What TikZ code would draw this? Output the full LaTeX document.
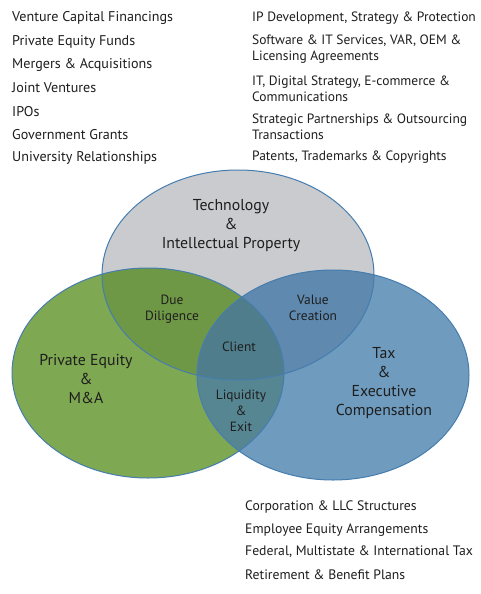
\documentclass[tikz,border=0pt]{standalone}
\usepackage{fontspec}
\setmainfont{PT Sans}
\definecolor{topgray}{RGB}{201,203,207}
\definecolor{pegreen}{RGB}{127,168,82}
\definecolor{taxblue}{RGB}{111,155,190}
\definecolor{ddgreen}{RGB}{110,152,70}
\definecolor{vcblue}{RGB}{95,137,174}
\definecolor{liqteal}{RGB}{86,134,146}
\definecolor{clientteal}{RGB}{79,125,140}
\definecolor{rimblue}{RGB}{70,125,175}
\definecolor{txt}{RGB}{30,30,30}
\tikzset{
  listitem/.style={anchor=west, inner sep=0pt, align=left, text=txt, font=\fontsize{13.5}{16}\selectfont},
  leftitem/.style={listitem, font=\fontsize{14.1}{16}\selectfont},
  bottomitem/.style={listitem, font=\fontsize{13.7}{16}\selectfont},
  biglabel/.style={anchor=center, inner sep=0pt, align=center, text=txt, font=\fontsize{15.8}{19}\selectfont},
  smalllabel/.style={anchor=center, inner sep=0pt, align=center, text=txt, font=\fontsize{13.4}{16}\selectfont},
  rim/.style={draw=rimblue, line width=1pt}
}
\begin{document}
\begin{tikzpicture}[x=1pt,y=-1pt]
\useasboundingbox (0,0) rectangle (480,594);
\fill[white] (0,0) rectangle (480,594);
\coordinate (T) at (238,275);
\coordinate (G) at (148,373);
\coordinate (B) at (333,375);
\def\rx{136}
\def\ry{105}
\fill[topgray] (T) ellipse [x radius=\rx, y radius=\ry];
\fill[pegreen] (G) ellipse [x radius=\rx, y radius=\ry];
\fill[taxblue] (B) ellipse [x radius=\rx, y radius=\ry];
\begin{scope}
  \clip (T) ellipse [x radius=\rx, y radius=\ry];
  \fill[ddgreen] (G) ellipse [x radius=\rx, y radius=\ry];
  \fill[vcblue] (B) ellipse [x radius=\rx, y radius=\ry];
\end{scope}
\begin{scope}
  \clip (G) ellipse [x radius=\rx, y radius=\ry];
  \fill[liqteal] (B) ellipse [x radius=\rx, y radius=\ry];
\end{scope}
\begin{scope}
  \clip (G) ellipse [x radius=\rx, y radius=\ry];
  \clip (T) ellipse [x radius=\rx, y radius=\ry];
  \fill[clientteal] (B) ellipse [x radius=\rx, y radius=\ry];
\end{scope}
\draw[rim] (T) ellipse [x radius=\rx, y radius=\ry];
\draw[rim] (G) ellipse [x radius=\rx, y radius=\ry];
\draw[rim] (B) ellipse [x radius=\rx, y radius=\ry];

% left list
\node[leftitem] (l1) at (12,18) {Venture Capital Financings};
\node[leftitem] (l2) at (12,42) {Private Equity Funds};
\node[leftitem] (l3) at (12,65) {Mergers \& Acquisitions};
\node[leftitem] (l4) at (12,88) {Joint Ventures};
\node[leftitem] (l5) at (12,112) {IPOs};
\node[leftitem] (l6) at (12,135) {Government Grants};
\node[leftitem] (l7) at (12,158) {University Relationships};

% right list
\node[listitem] (r1) at (252,18) {IP Development, Strategy \& Protection};
\node[listitem] (r2) at (252,49.5) {Software \& IT Services, VAR, OEM \&\\Licensing Agreements};
\node[listitem] (r3) at (252,88.5) {IT, Digital Strategy, E-commerce \&\\Communications};
\node[listitem] (r4) at (252,126.5) {Strategic Partnerships \& Outsourcing\\Transactions};
\node[listitem] (r5) at (252,157) {Patents, Trademarks \& Copyrights};

% bottom list
\node[bottomitem] (b1) at (245,507) {Corporation \& LLC Structures};
\node[bottomitem] (b2) at (245,530) {Employee Equity Arrangements};
\node[bottomitem] (b3) at (245,552) {Federal, Multistate \& International Tax};
\node[bottomitem] (b4) at (245,575) {Retirement \& Benefit Plans};

% venn labels
\node[biglabel] (tech) at (231,226) {Technology\\\&\\Intellectual Property};
\node[biglabel] (pe) at (86,379) {Private Equity\\\&\\M\&A};
\node[biglabel] (tax) at (384,383.5) {Tax\\\&\\Executive\\Compensation};
\node[smalllabel] (dd) at (172,309) {Due\\Diligence};
\node[smalllabel] (vc) at (313,308) {Value\\Creation};
\node[smalllabel] (cl) at (239,347) {Client};
\node[smalllabel] (lq) at (241,411) {Liquidity\\\&\\Exit};
\end{tikzpicture}
\end{document}
